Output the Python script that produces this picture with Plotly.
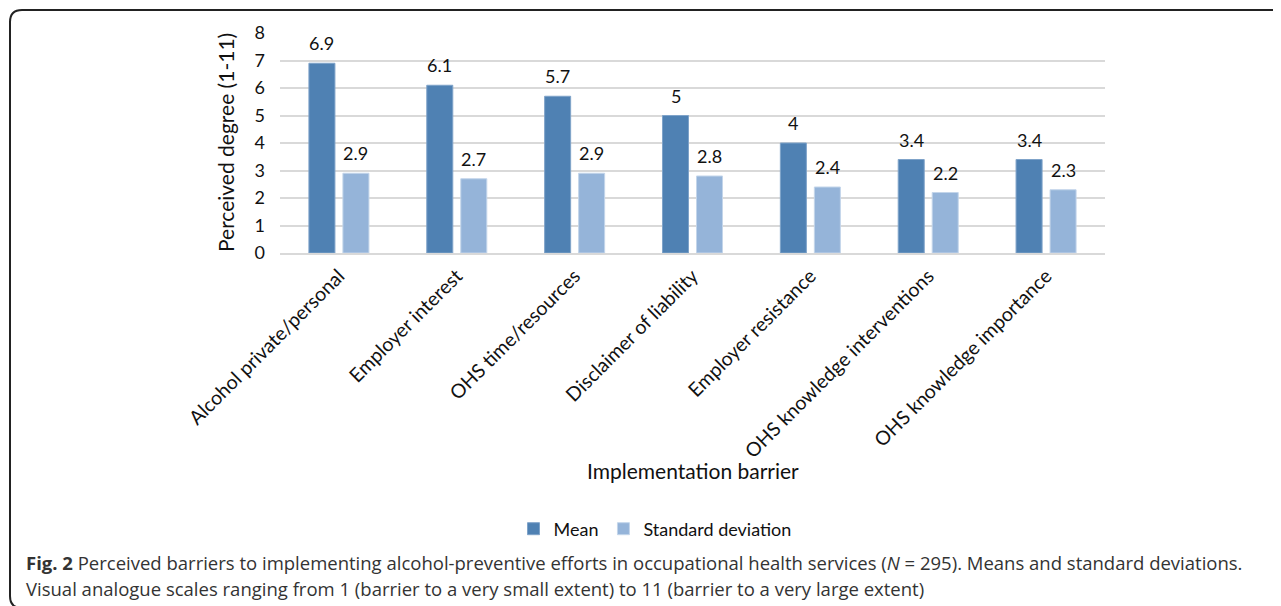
import plotly.graph_objects as go

categories = ["Alcohol private/personal", "Employer interest", "OHS time/resources",
              "Disclaimer of liability", "Employer resistance",
              "OHS knowledge interventions", "OHS knowledge importance"]
mean_vals = [6.9, 6.1, 5.7, 5.0, 4.0, 3.4, 3.4]
sd_vals = [2.9, 2.7, 2.9, 2.8, 2.4, 2.2, 2.3]
y_ticks = [0, 1, 2, 3, 4, 5, 6, 7, 8]

OFF = 8  # page body margin in the browser
W, H = 1281 - OFF, 606 - OFF
L, R, T, B = 280 - OFF, 1105 - OFF, 33 - OFF, 253 - OFF  # plot area in figure pixels
PW, PH = R - L, B - T


def px(x):
    # screenshot x pixel -> paper
    return (x - OFF - L) / PW


def py(y):
    # screenshot y pixel -> paper
    return (B - (y - OFF)) / PH


CHART_FONT = "Lato, Calibri, sans-serif"
CAP_FONT = "Open Sans, sans-serif"
MEAN_C = "#4f81b3"
SD_C = "#95b4d9"

fig = go.Figure()
fig.add_bar(name="Mean", x=categories, y=mean_vals,
            marker=dict(color=MEAN_C, line=dict(color="#7fa3c9", width=1)))
fig.add_bar(name="Standard deviation", x=categories, y=sd_vals,
            marker=dict(color=SD_C, line=dict(color="#c3d5ea", width=1)))

ann = []
for c, v in zip(categories, mean_vals):
    ann.append(dict(x=c, y=v, xref="x", yref="y", text=f"{v:g}", showarrow=False,
                    xshift=-17, yshift=20, yanchor="middle",
                    font=dict(family=CHART_FONT, size=18, color="#111")))
for c, v in zip(categories, sd_vals):
    ann.append(dict(x=c, y=v, xref="x", yref="y", text=f"{v:g}", showarrow=False,
                    xshift=17, yshift=20, yanchor="middle",
                    font=dict(family=CHART_FONT, size=18, color="#111")))

ann.append(dict(x=px(225), y=0.5, xref="paper", yref="paper", text="Perceived degree (1-11)",
                textangle=-90, showarrow=False, xanchor="center", yanchor="middle",
                font=dict(family=CHART_FONT, size=21, color="#111")))
ann.append(dict(x=0.5, y=py(470), xref="paper", yref="paper", text="Implementation barrier",
                showarrow=False, xanchor="center", yanchor="middle",
                font=dict(family=CHART_FONT, size=21, color="#111")))
ann.append(dict(x=px(24), y=py(562), xref="paper", yref="paper",
                text="<b>Fig. 2</b> Perceived barriers to implementing alcohol-preventive efforts in occupational health services (<i>N</i> = 295). Means and standard deviations.",
                showarrow=False, xanchor="left", yanchor="middle",
                font=dict(family=CAP_FONT, size=18.5, color="#333")))
ann.append(dict(x=px(24), y=py(588), xref="paper", yref="paper",
                text="Visual analogue scales ranging from 1 (barrier to a very small extent) to 11 (barrier to a very large extent)",
                showarrow=False, xanchor="left", yanchor="middle",
                font=dict(family=CAP_FONT, size=18.5, color="#333")))

# rounded frame (open to the right and bottom of the image)
x0, x1, y0, y1 = px(10), px(1300), py(608), py(10)
rx, ry = 12 / PW, 12 / PH
path = (f"M {x0+rx},{y1} L {x1},{y1} L {x1},{y0} L {x0+rx},{y0} "
        f"Q {x0},{y0} {x0},{y0+ry} L {x0},{y1-ry} Q {x0},{y1} {x0+rx},{y1} Z")

fig.update_layout(
    width=W, height=H,
    margin=dict(l=L, r=W - R, t=T, b=H - B, autoexpand=False),
    paper_bgcolor="white", plot_bgcolor="white",
    barmode="group", bargap=0.423, bargroupgap=0.235,
    annotations=ann,
    shapes=[dict(type="path", path=path, xref="paper", yref="paper",
                 line=dict(color="#222", width=2), fillcolor="rgba(0,0,0,0)", layer="below")],
    legend=dict(orientation="h", x=px(655), y=py(529), xanchor="center", yanchor="middle",
                font=dict(family=CHART_FONT, size=18, color="#111"), itemwidth=30,
                traceorder="normal"),
    showlegend=True,
)
fig.update_xaxes(showgrid=False, showline=True, linecolor="#d9d9d9", linewidth=2,
                 tickangle=-45, ticks="", ticklabelstandoff=2,
                 tickfont=dict(family=CHART_FONT, size=19.5, color="#111"))
fig.update_yaxes(range=[0, 8], tickvals=y_ticks, showgrid=True, gridcolor="#d9d9d9", gridwidth=1.5,
                 zeroline=False, showline=False, ticks="", ticklabelstandoff=14,
                 tickfont=dict(family=CHART_FONT, size=18, color="#111"))

fig.write_html("out.html")
